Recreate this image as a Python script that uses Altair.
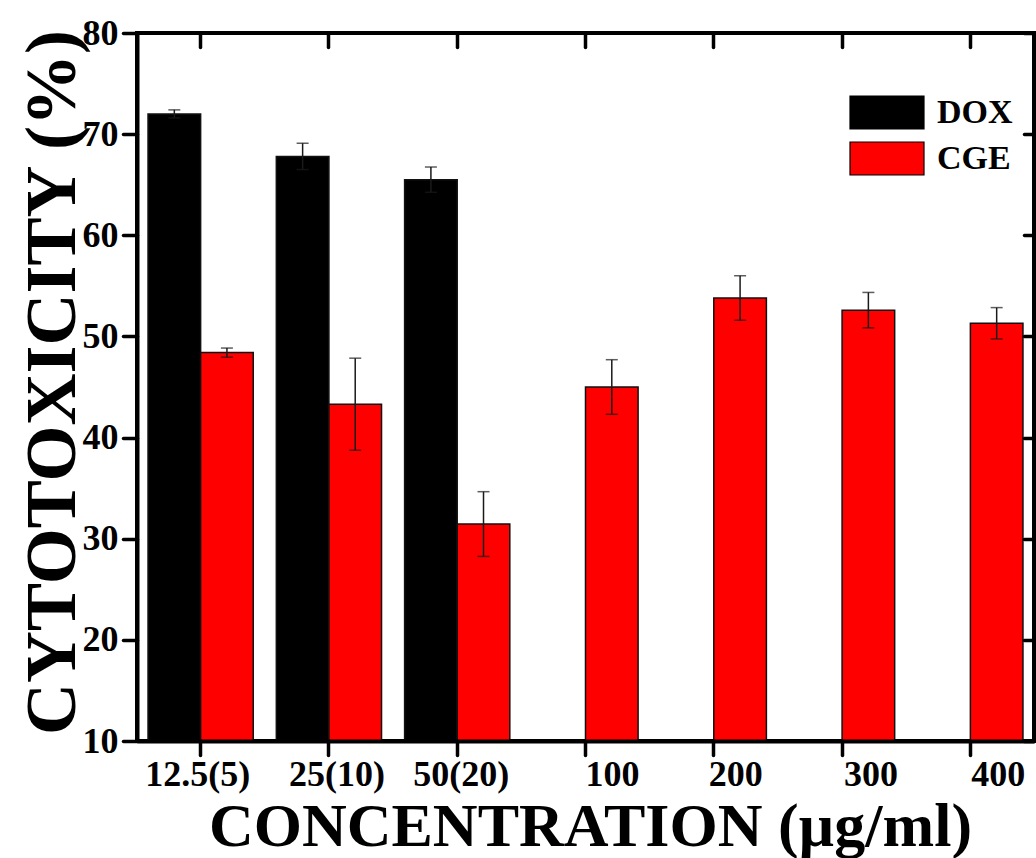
import altair as alt
import pandas as pd

# Concentrations tested (DOX concentration in brackets on the first three)
categories = ["12.5(5)", "25(10)", "50(20)", "100", "200", "300", "400"]
series_names = ["DOX", "CGE"]

# Mean cytotoxicity (%) and error for each treatment
dox_values = [72.0, 67.8, 65.5]
dox_errors = [0.4, 1.3, 1.25]
cge_values = [48.4, 43.3, 31.45, 45.0, 53.8, 52.6, 51.3]
cge_errors = [0.45, 4.55, 3.2, 2.7, 2.2, 1.75, 1.55]

# Horizontal nudges of the concentration labels (px)
label_nudges = [-3, 8, 4, 27, 22, 29, 28]

rows = []
for c, v, e in zip(categories, dox_values, dox_errors):
    rows.append({"conc": c, "series": "DOX", "value": v, "lo": v - e, "hi": v + e})
for c, v, e in zip(categories, cge_values, cge_errors):
    rows.append({"conc": c, "series": "CGE", "value": v, "lo": v - e, "hi": v + e})
df = pd.DataFrame(rows)

FONT = "Liberation Serif"

x_enc = alt.X(
    "conc:N",
    sort=categories,
    scale=alt.Scale(paddingInner=0.18, paddingOuter=0.086),
    axis=alt.Axis(
        title="CONCENTRATION (µg/ml)",
        titleFont=FONT,
        titleFontSize=62,
        titleFontWeight="bold",
        titleColor="black",
        titleX=453,
        titleY=104,
        titleAlign="center",
        titleBaseline="alphabetic",
        titleAngle=0,
        labelFont=FONT,
        labelFontSize=36,
        labelFontWeight="bold",
        labelColor="black",
        labelAngle=0,
        labelPadding=2,
        labelOffset={
            "condition": [
                {"test": f"datum.value === '{c}'", "value": n}
                for c, n in zip(categories, label_nudges)
            ],
            "value": 0,
        },
        domainColor="black",
        domainWidth=4,
        tickColor="black",
        tickWidth=3.5,
        tickSize=14,
        tickCap="round",
        grid=False,
        zindex=1,
    ),
)

xoff_enc = alt.XOffset(
    "series:N", sort=series_names, scale=alt.Scale(paddingInner=0, paddingOuter=0)
)

y_scale = alt.Scale(domain=[10, 80], nice=False, zero=False)
y_enc = alt.Y(
    "value:Q",
    scale=y_scale,
    axis=alt.Axis(
        title="CYTOTOXICITY (%)",
        titleFont=FONT,
        titleFontSize=72,
        titleFontWeight="bold",
        titleColor="black",
        titleAngle=270,
        titleX=-63,
        titleY=349,
        titleAlign="center",
        titleBaseline="alphabetic",
        values=[10, 20, 30, 40, 50, 60, 70, 80],
        labelFont=FONT,
        labelFontSize=36,
        labelFontWeight="bold",
        labelColor="black",
        labelPadding=5,
        domainColor="black",
        domainWidth=4,
        tickColor="black",
        tickWidth=3.5,
        tickSize=14,
        tickCap="round",
        grid=False,
        zindex=1,
    ),
)

# Wide rectangular legend swatches: a custom path drawn at twice the
# nominal symbol radius, so the swatch is 74 x 33 px
color_enc = alt.Color(
    "series:N",
    scale=alt.Scale(domain=series_names, range=["#000000", "#ff0000"]),
    legend=alt.Legend(
        title=None,
        orient="none",
        legendX=730.5,
        legendY=60,
        padding=0,
        symbolType="M-2,-0.892H2V0.892H-2Z",
        symbolSize=1369,
        symbolStrokeColor="black",
        symbolStrokeWidth=1.2,
        symbolOpacity=1,
        labelFont=FONT,
        labelFontSize=34,
        labelFontWeight="bold",
        labelColor="black",
        labelOffset=30.5,
        rowPadding=7,
    ),
)

bars = alt.Chart(df).mark_bar(stroke="#111111", strokeWidth=1.5, clip=True).encode(
    x=x_enc, xOffset=xoff_enc, y=y_enc, y2=alt.Y2(datum=10), color=color_enc
)

err_rule = alt.Chart(df).mark_rule(color="#1a1a1a", strokeWidth=1.5).encode(
    x=alt.X("conc:N", sort=categories),
    xOffset=alt.XOffset("series:N", sort=series_names),
    y=alt.Y("lo:Q", scale=y_scale),
    y2="hi:Q",
)

cap_lo = alt.Chart(df).mark_tick(color="#1a1a1a", thickness=1.5, size=12).encode(
    x=alt.X("conc:N", sort=categories),
    xOffset=alt.XOffset("series:N", sort=series_names),
    y=alt.Y("lo:Q", scale=y_scale),
)
cap_hi = alt.Chart(df).mark_tick(color="#1a1a1a", thickness=1.5, size=12).encode(
    x=alt.X("conc:N", sort=categories),
    xOffset=alt.XOffset("series:N", sort=series_names),
    y=alt.Y("hi:Q", scale=y_scale),
)

# Inward ticks on the top and right edges of the frame
top_ticks = alt.Chart(df).mark_bar(opacity=0, clip=True).encode(
    x=alt.X(
        "conc:N",
        sort=categories,
        axis=alt.Axis(
            orient="top",
            title=None,
            labels=False,
            domain=False,
            offset=-14,
            tickSize=14,
            tickWidth=3.5,
            tickColor="black",
            tickCap="round",
            grid=False,
            zindex=1,
        ),
    ),
    xOffset=alt.XOffset("series:N", sort=series_names),
    y=alt.Y(
        "value:Q",
        scale=y_scale,
        axis=alt.Axis(
            orient="right",
            title=None,
            labels=False,
            domain=False,
            offset=-10,
            tickSize=10,
            tickWidth=3.5,
            tickColor="black",
            tickCap="round",
            values=[10, 20, 30, 40, 50, 60, 70, 80],
            grid=False,
            zindex=1,
        ),
    ),
)

main = alt.layer(bars, err_rule, cap_lo, cap_hi)

chart = (
    alt.layer(main, top_ticks)
    .resolve_axis(x="independent", y="independent")
    .properties(
        width=897,
        height=708,
        autosize=alt.AutoSizeParams(type="none"),
        padding={"left": 137, "top": 33, "right": 2, "bottom": 117},
        background="white",
    )
    .configure_view(stroke="black", strokeWidth=4)
)

chart.save("out.html", embed_options={"renderer": "svg", "actions": False})
